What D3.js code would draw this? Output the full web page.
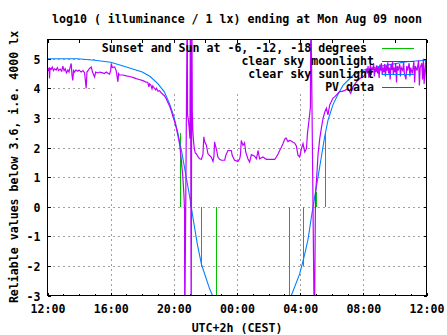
<!DOCTYPE html>
<html><head><meta charset="utf-8">
<script src="https://cdn.jsdelivr.net/npm/d3@7"></script>
<style>
body{margin:0;background:#fff;}
svg{display:block;}
text{font-family:"DejaVu Sans Mono",monospace;font-weight:bold;font-size:11.6px;fill:#000;}
</style></head><body>
<svg id="c" width="447" height="335"></svg>
<script>
// ---------- data ----------
const titleText = "log10 ( illuminance / 1 lx) ending at Mon Aug 09 noon";
const xLabelText = "UTC+2h (CEST)";
const yLabelText = "Reliable values below 3.6, i.e. 4000 lx";
// hours since Sun Aug 08 12:00 (CEST)
const xTickValues = [0, 4, 8, 12, 16, 20, 24];
const xTickLabels = ["12:00", "16:00", "20:00", "00:00", "04:00", "08:00", "12:00"];
const yTickValues = [-3, -2, -1, 0, 1, 2, 3, 4, 5];
const legendLabels = ["Sunset and Sun at -6, -12, -18 degrees ", "clear sky moonlight", "clear sky sunlight", "PV data"];

// sunset / twilight markers: [hour, value reached from 0]
const sunsetMarks = [[8.37, 2.5], [9.0, 0.33], [9.74, -2.03], [10.69, -3.6],
                     [15.29, -3.6], [16.18, -2.0], [17.03, 0.5], [17.57, 2.53]];

// clear sky moonlight (new moon: nothing inside the plotted range)
const moonData = [];

// clear sky sunlight model
const sunData = [[0, 5.0], [1, 5.0], [1.9, 5.0], [3, 4.95], [4, 4.88], [5, 4.72], [6, 4.55], [6.5, 4.4],
  [7, 4.15], [7.4, 3.88], [7.75, 3.45], [8, 3.05], [8.25, 2.5], [8.5, 1.85], [8.75, 1.1], [9, 0.35],
  [9.25, -0.5], [9.5, -1.3], [9.75, -1.95], [10, -2.35], [10.25, -2.75], [10.45, -3.0], [10.75, -3.4],
  [11.5, -4.0], [12.5, -4.4], [14, -4.2], [15, -3.6], [15.44, -3.0], [15.97, -2.27], [16.29, -1.6],
  [16.5, -1.1], [16.71, -0.35], [16.92, 0.33], [17.13, 1.0], [17.34, 1.68], [17.55, 2.36], [17.76, 2.92],
  [18.08, 3.45], [18.4, 3.8], [18.71, 4.1], [19.35, 4.44], [19.98, 4.61], [20.83, 4.72], [21.67, 4.8],
  [22.73, 4.9], [24, 4.95]];

// PV measurement
const pvData = [[0.00,4.67],[0.05,4.62],[0.10,4.70],[0.13,4.33],[0.16,4.68],[0.23,4.64],[0.30,4.72],[0.38,4.60],
  [0.45,4.66],[0.55,4.62],[0.62,4.70],[0.70,4.60],[0.80,4.65],[0.90,4.58],[0.97,4.75],[1.05,4.60],[1.12,4.66],
  [1.20,4.52],[1.29,4.62],[1.36,4.55],[1.42,4.68],[1.50,4.84],[1.55,4.45],[1.60,4.27],[1.65,4.60],[1.71,4.55],
  [1.80,4.62],[1.92,4.58],[2.00,4.62],[2.13,4.55],[2.25,4.60],[2.35,4.52],[2.45,4.00],[2.50,4.55],[2.60,4.62],
  [2.66,4.67],[2.77,4.72],[2.85,4.55],[2.98,4.38],[3.05,4.55],[3.19,4.52],[3.30,4.55],[3.50,4.52],[3.60,4.50],
  [3.72,4.55],[3.85,4.50],[3.93,4.48],[4.00,4.60],[4.04,4.84],[4.10,4.70],[4.25,4.72],[4.35,4.60],[4.46,4.22],
  [4.50,4.50],[4.56,4.45],[4.77,4.45],[5.00,4.42],[5.20,4.40],[5.40,4.37],[5.62,4.33],[5.80,4.30],[6.04,4.26],
  [6.20,4.22],[6.35,4.20],[6.42,4.05],[6.46,4.15],[6.55,4.10],[6.62,3.98],[6.67,4.08],[6.75,4.02],[6.85,3.95],
  [6.90,4.00],[7.00,3.90],[7.10,3.92],[7.20,3.85],[7.30,3.80],[7.40,3.75],[7.52,3.65],[7.60,3.55],[7.73,3.40],
  [7.85,3.22],[7.94,3.05],[8.05,2.88],[8.16,2.65],[8.26,2.40],[8.37,2.10],[8.47,1.60],[8.57,1.00],[8.64,0.40],
  [8.68,-0.10],[8.69,-4.5],[8.85,7.0],[8.87,3.10],[8.93,2.90],[8.98,2.60],[9.02,2.30],[9.05,7.0],[9.10,-4.5],
  [9.14,7.0],[9.17,3.20],[9.20,2.60],[9.25,2.20],[9.30,1.95],[9.36,1.82],
  [9.42,1.79],[9.52,1.70],[9.63,1.62],[9.74,1.60],[9.84,1.75],[9.90,2.36],[9.95,2.20],[10.06,2.08],[10.16,1.79],
  [10.28,1.72],[10.37,1.68],[10.48,1.53],[10.54,1.70],[10.58,2.19],[10.64,2.05],[10.69,1.96],[10.79,1.68],
  [10.90,1.60],[11.01,1.57],[11.22,1.57],[11.30,1.75],[11.43,1.90],[11.64,1.90],[11.70,1.73],[11.85,1.57],
  [12.06,1.53],[12.17,1.62],[12.22,1.75],[12.27,2.24],[12.38,2.07],[12.48,2.16],[12.55,1.85],[12.69,1.62],
  [12.80,1.51],[12.91,1.76],[13.12,1.71],[13.23,1.62],[13.30,1.80],[13.33,1.90],[13.43,1.62],[13.64,1.68],
  [13.86,1.60],[14.07,1.60],[14.39,1.60],[14.49,1.68],[14.60,1.78],[14.70,1.90],[14.80,2.00],[14.91,2.13],
  [15.02,2.28],[15.10,2.32],[15.23,2.20],[15.33,2.24],[15.44,2.22],[15.55,2.18],[15.65,2.15],[15.76,2.05],
  [15.86,1.74],[15.97,1.68],[16.08,1.96],[16.18,2.13],[16.29,1.85],[16.40,1.96],[16.46,2.47],[16.56,2.92],
  [16.65,3.37],[16.68,7.0],[16.90,-4.5],[16.97,0.40],[17.03,0.85],[17.13,1.75],[17.24,2.30],[17.34,2.65],
  [17.45,2.99],[17.56,3.20],[17.66,3.33],[17.76,3.10],[17.87,3.44],[17.97,3.55],[18.08,3.67],[18.20,3.72],
  [18.30,3.78],[18.40,3.84],[18.50,3.89],[18.65,3.90],[18.82,3.93],[19.03,3.99],[19.20,3.83],[19.35,4.05],
  [19.56,4.22],[19.77,4.33],[19.98,4.38],[20.10,4.45],[20.20,4.67],[20.25,4.50],[20.30,4.75],[20.35,4.35],
  [20.40,4.60],[20.45,4.80],[20.50,4.45],[20.55,4.70],[20.60,4.62],[20.65,4.85],[20.70,4.40],[20.75,4.68],
  [20.80,4.55],[20.85,4.78],[20.90,4.50],[20.95,4.72],[21.00,4.35],[21.05,4.80],[21.10,4.60],[21.15,4.85],
  [21.20,4.45],[21.25,4.70],[21.30,4.55],[21.35,4.82],[21.40,4.40],[21.45,4.75],[21.50,4.60],[21.55,4.88],
  [21.60,4.50],[21.65,4.70],[21.70,4.30],[21.75,4.80],[21.80,4.62],[21.85,4.90],[21.90,4.45],[21.95,4.70],
  [22.00,4.55],[22.05,4.85],[22.10,4.20],[22.15,4.75],[22.20,4.60],[22.30,4.82],[22.35,4.40],[22.40,4.70],
  [22.50,4.60],[22.55,4.88],[22.60,4.50],[22.70,4.30],[22.75,4.75],[22.80,4.60],[22.90,4.85],[22.95,4.40],
  [23.00,4.70],[23.10,4.50],[23.20,4.90],[23.25,4.20],[23.30,4.75],[23.40,4.60],[23.50,4.95],[23.55,4.10],
  [23.60,4.70],[23.70,4.85],[23.75,4.30],[23.80,5.00],[23.85,4.15],[23.90,4.60],[23.95,4.95],[24.00,4.20]];

// ---------- drawing ----------
const svg = d3.select("#c");
const L = 47.5, R = 426.5, T = 39.5, B = 295.5;
const x = d3.scaleLinear().domain([0, 24]).range([L, R]);
const y = d3.scaleLinear().domain([-3, 5.65]).range([B, T]);
const colors = {sunset: "#00c000", moon: "#ff0000", sun: "#0080ff", pv: "#c000ff"};
const keyBox = {x0: 98, y0: T, x1: R, y1: 93};

const defs = svg.append("defs");
defs.append("clipPath").attr("id", "plotClip").append("rect")
  .attr("x", L).attr("y", T).attr("width", R - L).attr("height", B - T);
const mask = defs.append("mask").attr("id", "gridMask");
mask.append("rect").attr("x", 0).attr("y", 0).attr("width", 447).attr("height", 335).attr("fill", "#fff");
mask.append("rect").attr("x", keyBox.x0).attr("y", keyBox.y0 - 1)
  .attr("width", keyBox.x1 - keyBox.x0 + 1).attr("height", keyBox.y1 - keyBox.y0 + 1).attr("fill", "#000");

// grid
const grid = svg.append("g").attr("mask", "url(#gridMask)")
  .attr("stroke", "#a0a0a0").attr("stroke-dasharray", "2,3").attr("shape-rendering", "crispEdges");
grid.selectAll("line.gx").data(xTickValues.filter(d => d > 0 && d < 24)).enter().append("line")
  .attr("x1", d => Math.round(x(d)) + 0.5).attr("x2", d => Math.round(x(d)) + 0.5)
  .attr("y1", B).attr("y2", T);
grid.selectAll("line.gy").data(yTickValues.filter(d => d > -3)).enter().append("line")
  .attr("y1", d => Math.round(y(d)) + 0.5).attr("y2", d => Math.round(y(d)) + 0.5)
  .attr("x1", L).attr("x2", R);

// axes ticks and labels
function clean(g) { g.select(".domain").remove(); g.attr("font-family", null).attr("font-size", null); }
svg.append("g").attr("transform", `translate(0,${B})`).attr("shape-rendering", "crispEdges")
  .call(d3.axisBottom(x).tickValues(d3.range(0, 25, 1)).tickSize(-2).tickFormat(""))
  .call(clean);
const xa = svg.append("g").attr("transform", `translate(0,${B})`).attr("shape-rendering", "crispEdges")
  .call(d3.axisBottom(x).tickValues(xTickValues).tickSize(-3).tickPadding(9)
    .tickFormat((d, i) => xTickLabels[i]))
  .call(clean);
xa.selectAll("text").attr("dy", null).attr("y", 17.5);
svg.append("g").attr("transform", `translate(0,${T})`).attr("shape-rendering", "crispEdges")
  .call(d3.axisTop(x).tickValues(d3.range(0, 25, 2)).tickSize(-3).tickFormat(""))
  .call(clean);
const ya = svg.append("g").attr("transform", `translate(${L},0)`).attr("shape-rendering", "crispEdges")
  .call(d3.axisLeft(y).tickValues(yTickValues).tickSize(-3).tickPadding(7).tickFormat(d3.format("d")))
  .call(clean);
ya.selectAll("text").attr("dy", null).attr("y", 4.5).text(d => d < 0 ? "-" + Math.abs(d) : d);
svg.append("g").attr("transform", `translate(${R},0)`).attr("shape-rendering", "crispEdges")
  .call(d3.axisRight(y).tickValues(yTickValues).tickSize(-3).tickFormat(""))
  .call(clean);

// data
const plot = svg.append("g").attr("clip-path", "url(#plotClip)");
const line = d3.line().x(d => x(d[0])).y(d => y(d[1]));
plot.selectAll("line.sunset").data(sunsetMarks).enter().append("line")
  .attr("x1", d => Math.round(x(d[0])) + 0.5).attr("x2", d => Math.round(x(d[0])) + 0.5)
  .attr("y1", y(0)).attr("y2", d => y(d[1]))
  .attr("stroke", colors.sunset).attr("stroke-width", 1).attr("shape-rendering", "crispEdges");
plot.append("path").datum(moonData).attr("d", line).attr("fill", "none").attr("stroke", colors.moon);
plot.append("path").datum(sunData).attr("d", line).attr("fill", "none")
  .attr("stroke", colors.sun).attr("stroke-width", 1.1);
plot.append("path").datum(pvData).attr("d", line).attr("fill", "none")
  .attr("stroke", colors.pv).attr("stroke-width", 1.2).attr("stroke-linejoin", "miter");

// legend
const legendColors = [colors.sunset, colors.moon, colors.sun, colors.pv];
const lg = svg.append("g");
legendLabels.forEach((lab, i) => {
  const by = 51.5 + i * 13;
  lg.append("text").attr("x", 374).attr("y", by).attr("text-anchor", "end")
    .style("white-space", "pre").text(lab);
  lg.append("line").attr("x1", 382).attr("x2", 414)
    .attr("y1", Math.round(by - 4) + 0.5).attr("y2", Math.round(by - 4) + 0.5)
    .attr("stroke", legendColors[i]).attr("shape-rendering", "crispEdges");
});

// frame
svg.append("rect").attr("x", L).attr("y", T).attr("width", R - L).attr("height", B - T)
  .attr("fill", "none").attr("stroke", "#000").attr("shape-rendering", "crispEdges");

// titles
svg.append("text").attr("x", 237).attr("y", 23).attr("text-anchor", "middle").text(titleText);
svg.append("text").attr("x", 237).attr("y", 331.5).attr("text-anchor", "middle").text(xLabelText);
svg.append("text").attr("transform", "translate(17.5,167) rotate(-90)").attr("text-anchor", "middle").text(yLabelText);
</script>
</body></html>
